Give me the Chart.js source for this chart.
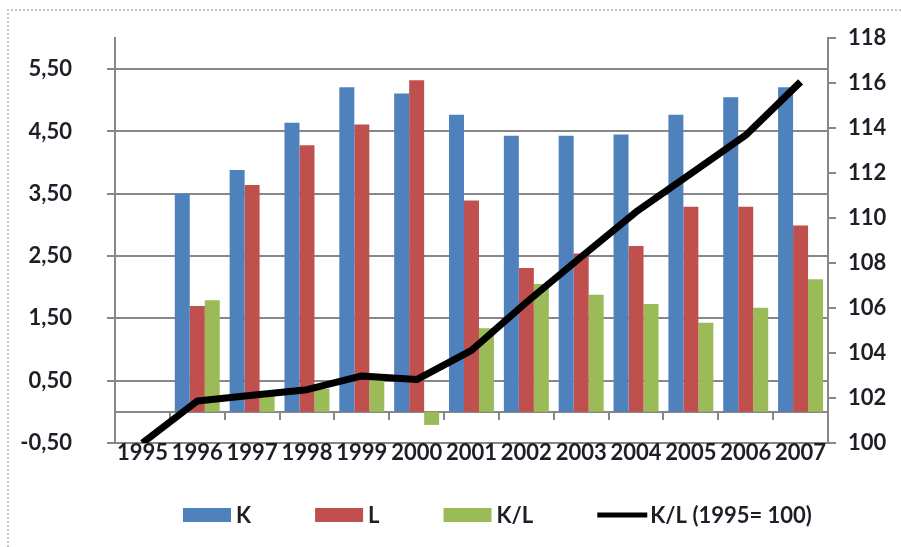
<!DOCTYPE html>
<html>
<head>
<meta charset="utf-8">
<script src="https://cdn.jsdelivr.net/npm/chart.js@4.4.1/dist/chart.umd.min.js"></script>
<style>
  html, body { margin: 0; padding: 0; background: #ffffff; }
  #wrap { position: relative; width: 901px; height: 547px; overflow: hidden; }
  #frame {
    position: absolute; left: 7px; top: 9px; width: 920px; height: 620px;
    border-top: 2px dotted #c2c2c2; border-left: 2px dotted #c2c2c2;
  }
  canvas { position: absolute; left: 0; top: 0; }
</style>
</head>
<body>
<div id="wrap">
  <div id="frame"></div>
  <canvas id="chart" width="901" height="547"></canvas>
</div>
<script>
// Years on the category axis
const years = ['1995', '1996', '1997', '1998', '1999', '2000', '2001',
               '2002', '2003', '2004', '2005', '2006', '2007'];

// Annual growth rates (%), left axis
const kGrowth  = [null, 3.50, 3.88, 4.64, 5.21, 5.11, 4.77, 4.43, 4.43, 4.45, 4.77, 5.05, 5.21];
const lGrowth  = [null, 1.70, 3.64, 4.28, 4.61, 5.32, 3.39, 2.31, 2.54, 2.66, 3.29, 3.29, 2.99];
const klGrowth = [null, 1.79, 0.25, 0.37, 0.57, -0.21, 1.34, 2.05, 1.88, 1.73, 1.43, 1.67, 2.13];

// Capital/labour ratio index (1995 = 100), right axis
const klIndex  = [100, 101.87, 102.12, 102.37, 102.98, 102.82, 104.12, 106.25, 108.27, 110.27, 111.97, 113.68, 116.05];

// Tick values
const leftTicks  = [-0.5, 0.5, 1.5, 2.5, 3.5, 4.5, 5.5];
const rightTicks = [100, 102, 104, 106, 108, 110, 112, 114, 116, 118];

const GRID = '#878787';
const TEXT = '#1e1e28';
const FONT = { family: 'Lato', size: 22, weight: 'bold' };

const fmtComma = v => v.toFixed(2).replace('.', ',');

// Fix an axis width and keep its label padding from growing the plot margins
const fixWidth = w => s => {
  s.width = w;
  s.paddingTop = 0;
  s.paddingBottom = 0;
};

// Legend drawn below the axis labels, one swatch per series
const bottomLegend = {
  id: 'bottomLegend',
  afterDraw(chart) {
    const ctx = chart.ctx;
    ctx.save();
    ctx.font = `${FONT.weight} ${FONT.size}px ${FONT.family}`;
    ctx.textBaseline = 'middle';
    ctx.textAlign = 'left';
    let x = 183;
    const y = 515;
    chart.data.datasets.forEach(ds => {
      if (ds.type === 'line') {
        ctx.strokeStyle = ds.borderColor;
        ctx.lineWidth = 5;
        ctx.beginPath();
        ctx.moveTo(x, y);
        ctx.lineTo(x + 50, y);
        ctx.stroke();
      } else {
        ctx.fillStyle = ds.backgroundColor;
        ctx.fillRect(x, y - 7, 48, 14);
      }
      x += 53;
      ctx.fillStyle = TEXT;
      ctx.fillText(ds.label, x, y + 1);
      x += ctx.measureText(ds.label).width + 64;
    });
    ctx.restore();
  }
};

new Chart(document.getElementById('chart'), {
  data: {
    labels: years,
    datasets: [
      { type: 'bar', label: 'K', data: kGrowth, backgroundColor: '#4f81bd',
        yAxisID: 'y', order: 2, barPercentage: 1, categoryPercentage: 0.82 },
      { type: 'bar', label: 'L', data: lGrowth, backgroundColor: '#c0504d',
        yAxisID: 'y', order: 2, barPercentage: 1, categoryPercentage: 0.82 },
      { type: 'bar', label: 'K/L', data: klGrowth, backgroundColor: '#9bbb59',
        yAxisID: 'y', order: 2, barPercentage: 1, categoryPercentage: 0.82 },
      { type: 'line', label: 'K/L (1995= 100)', data: klIndex, borderColor: '#000000',
        backgroundColor: '#000000', borderWidth: 7, pointRadius: 0, tension: 0,
        borderJoinStyle: 'round', borderCapStyle: 'butt', yAxisID: 'y1', order: 0 }
    ]
  },
  options: {
    responsive: false,
    animation: false,
    devicePixelRatio: 1,
    layout: { padding: { top: 38, left: 0, right: 0, bottom: 74 } },
    plugins: { legend: { display: false }, tooltip: { enabled: false } },
    scales: {
      x: {
        position: 'bottom',
        offset: true,
        grid: { display: false, drawTicks: false },
        border: { display: false },
        ticks: { color: TEXT, font: FONT, padding: -3, autoSkip: false, maxRotation: 0, minRotation: 0 },
        afterFit: s => { s.height = 30; }
      },
      x2: {
        axis: 'x',
        type: 'category',
        labels: years,
        position: { y: 0 },
        offset: true,
        grid: { offset: true, drawOnChartArea: false, drawTicks: true, tickLength: 7,
                color: GRID, lineWidth: 2 },
        border: { color: GRID, width: 2 },
        ticks: { display: false }
      },
      y: {
        position: 'left',
        min: -0.5,
        max: 6,
        afterBuildTicks: s => { s.ticks = leftTicks.map(v => ({ value: v })); },
        afterFit: fixWidth(115),
        grid: { color: GRID, lineWidth: 2, tickLength: 8 },
        border: { color: GRID, width: 2 },
        ticks: { color: TEXT, font: FONT, padding: 35, callback: v => fmtComma(v) }
      },
      y1: {
        position: 'right',
        min: 100,
        max: 118,
        afterBuildTicks: s => { s.ticks = rightTicks.map(v => ({ value: v })); },
        afterFit: fixWidth(73),
        grid: { drawOnChartArea: false, color: GRID, lineWidth: 2, tickLength: 8 },
        border: { color: GRID, width: 2 },
        ticks: { color: TEXT, font: FONT, padding: 12, callback: v => String(v) }
      }
    }
  },
  plugins: [bottomLegend]
});
</script>
</body>
</html>
